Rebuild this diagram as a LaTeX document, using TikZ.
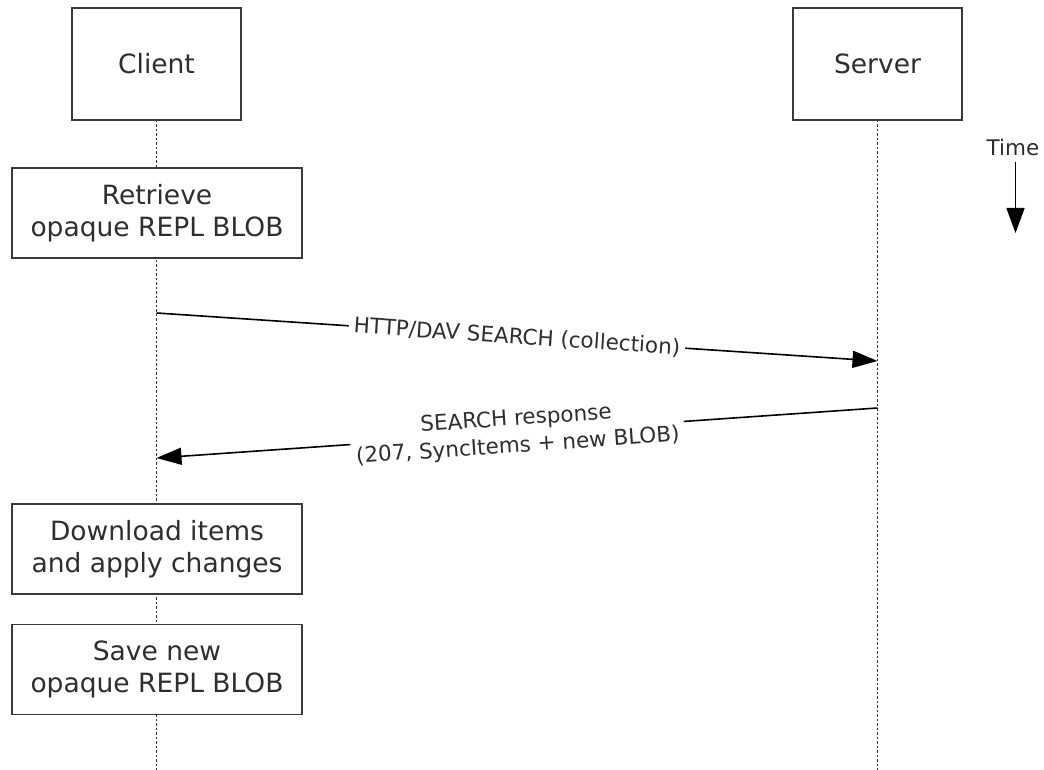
\documentclass[tikz,border=0pt]{standalone}
\usepackage{fontspec}
\setmainfont{DejaVu Sans}
\usetikzlibrary{arrows.meta}
\definecolor{ink}{HTML}{2E2E2E}
\definecolor{edge}{HTML}{3A3A3A}
\begin{document}
\begin{tikzpicture}[x=1pt,y=-1pt,
  bigfont/.style={font=\fontsize{26.5}{32}\selectfont},
  smallfont/.style={font=\fontsize{21.5}{27}\selectfont},
  actor/.style={draw=edge,line width=1.5pt,fill=white,minimum width=169pt,minimum height=112pt,inner sep=0pt,text=ink,bigfont},
  stepbox/.style={draw=edge,line width=1.5pt,fill=white,minimum width=290pt,minimum height=90pt,inner sep=0pt,align=center,text=ink,bigfont},
  lifeline/.style={draw=black!80,line width=1.8pt,dash pattern=on 2.5pt off 2pt},
  msg/.style={draw=black,line width=1.6pt,-{Triangle[length=25pt,width=17pt]}},
  msglabel/.style={fill=white,inner sep=5pt,text=ink,smallfont,align=center,sloped}
]
\useasboundingbox (0,0) rectangle (1044,770);
% lifelines
\coordinate (cend) at (156.5,770);
\coordinate (send) at (877.5,770);
\coordinate (ctop) at (156.5,120);
\coordinate (stop) at (877.5,120);
\draw[lifeline] (ctop) -- (cend);
\draw[lifeline] (stop) -- (send);
% actors
\node[actor] (client) at (156.5,64) {Client};
\node[actor] (server) at (877.5,64) {Server};
% steps
\node[stepbox] (retrieve) at (157,213) {Retrieve\\opaque REPL BLOB};
\node[stepbox] (download) at (157,549) {Download items\\and apply changes};
\node[stepbox] (save) at (157,669.5) {Save new\\opaque REPL BLOB};
% messages
\coordinate (m1s) at (156.5,313);
\coordinate (m1e) at (877.5,361);
\coordinate (m2s) at (877.5,408);
\coordinate (m2e) at (156.5,458);
\draw[msg] (m1s) -- node[msglabel] (l1) {HTTP/DAV SEARCH (collection)} (m1e);
\draw[msg] (m2s) -- node[msglabel] (l2) {SEARCH response\\(207, SyncItems + new BLOB)} (m2e);
% time
\node[text=ink,smallfont] (time) at (1013,147) {Time};
\coordinate (tstart) at (1015.5,162);
\coordinate (tend) at (1015.5,233);
\draw[draw=black,line width=1.6pt,-{Triangle[length=25pt,width=18pt]}] (tstart) -- (tend);
\end{tikzpicture}
\end{document}
